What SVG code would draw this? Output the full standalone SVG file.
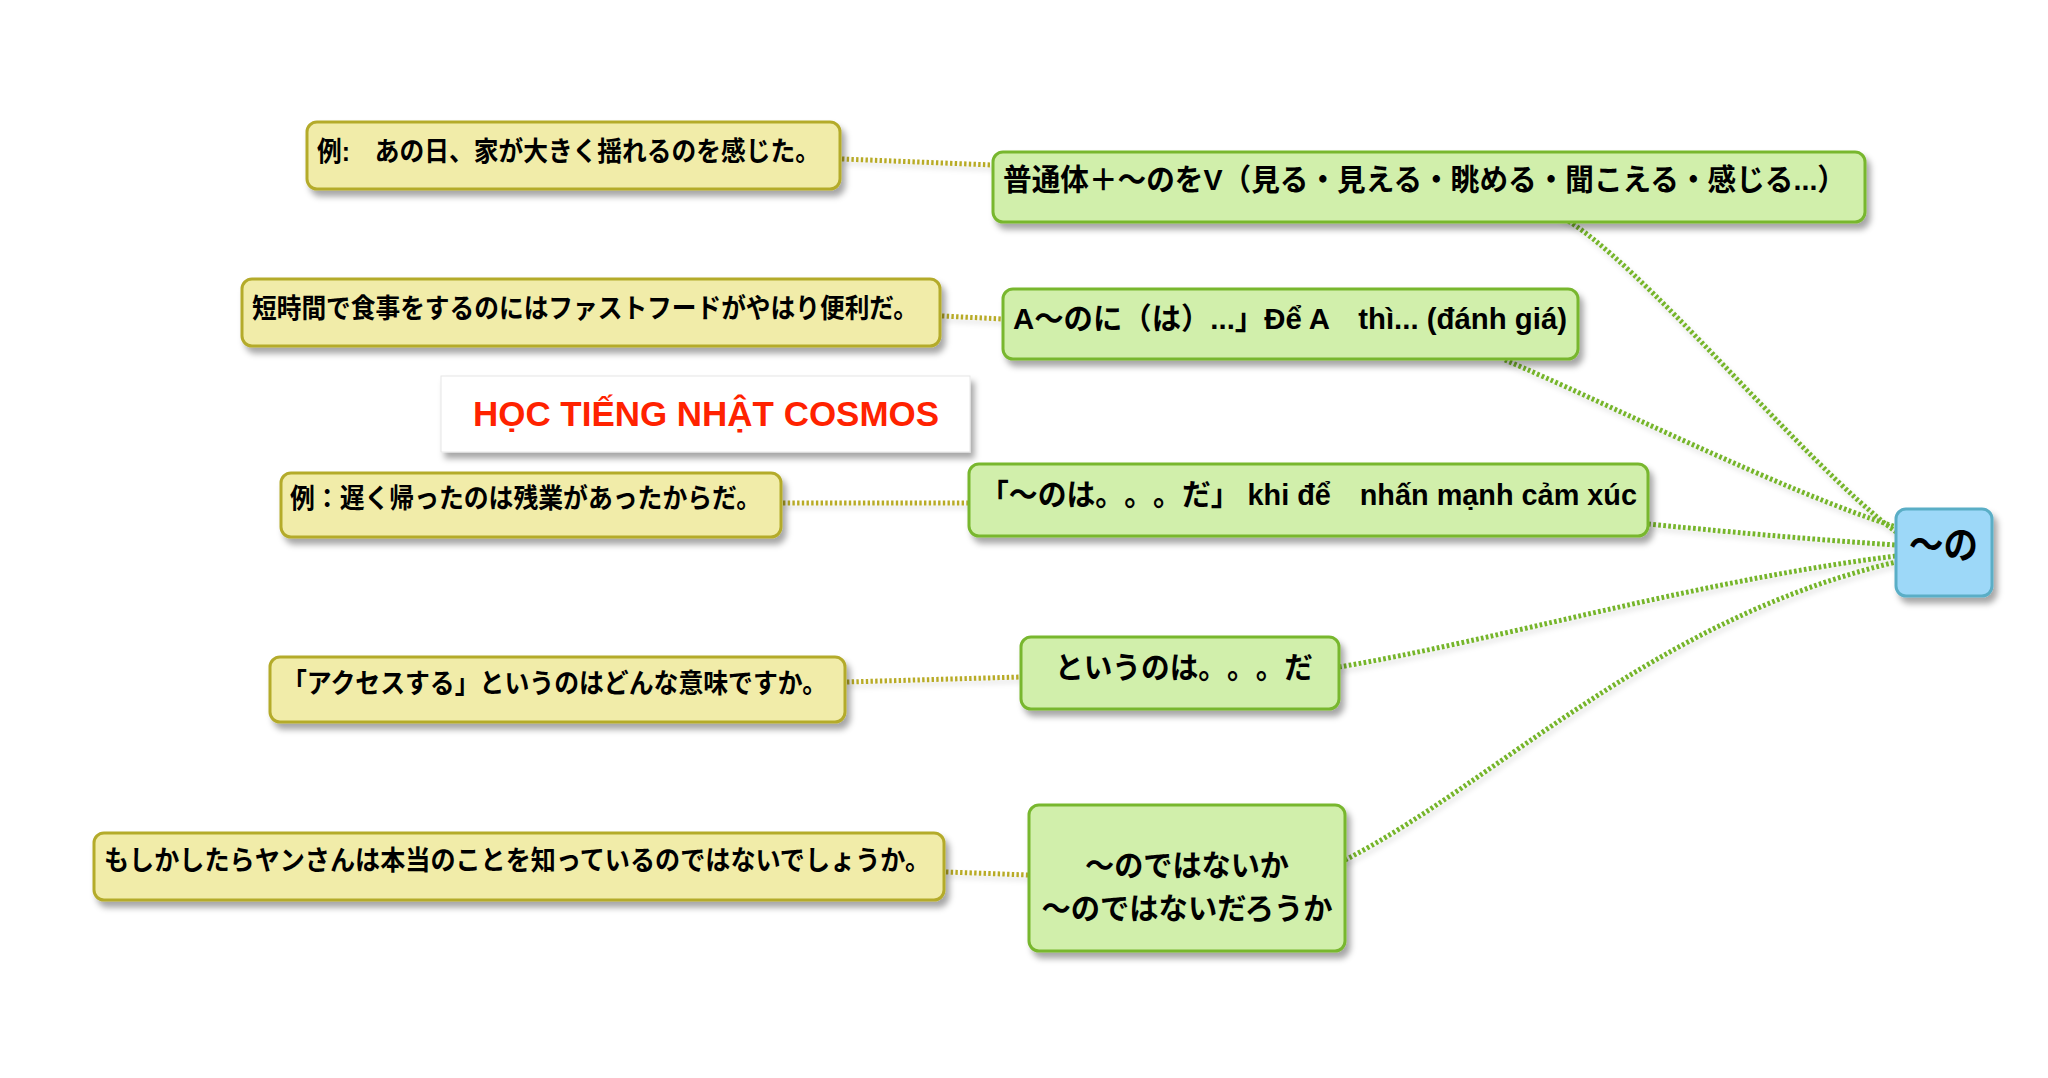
<svg xmlns="http://www.w3.org/2000/svg" width="2048" height="1078" viewBox="0 0 2048 1078">
<defs>
<filter id="sh" x="-10%" y="-20%" width="130%" height="160%">
<feDropShadow dx="4" dy="6" stdDeviation="3" flood-color="#000" flood-opacity="0.35"/>
</filter>
<filter id="shc" x="-5%" y="-20%" width="110%" height="140%">
<feDropShadow dx="2" dy="4" stdDeviation="2.5" flood-color="#000" flood-opacity="0.15"/>
</filter>
<style>
.y{fill:#f1eca9;stroke:#b4ab2b;stroke-width:3;filter:url(#sh)}
.g{fill:#d1efab;stroke:#78b72f;stroke-width:3;filter:url(#sh)}
.b{fill:#9dd8f8;stroke:#5aaec6;stroke-width:3;filter:url(#sh)}
.t{fill:#fff;stroke:#e6e6e6;stroke-width:1;filter:url(#sh)}
text{font-family:"Liberation Sans","Noto Sans CJK JP",sans-serif;font-weight:bold;fill:#000;text-spacing-trim:space-all}
.ty{font-size:27px}
.tg{font-size:30px}
.cg{fill:none;stroke:#76b52c;stroke-width:5;stroke-dasharray:2.7 2.3}
.cy{fill:none;stroke:#b8ab27;stroke-width:5;stroke-dasharray:2.4 2.3}
</style>
</defs>
<rect width="2048" height="1078" fill="#fff"/>
<g id="connectors" filter="url(#shc)">
<path class="cg" d="M1560,216 C1640,260 1800,460 1896,532"/>
<path class="cg" d="M1505,360 C1600,400 1780,490 1896,527"/>
<path class="cg" d="M1648,524 C1750,534 1820,540 1896,545"/>
<path class="cg" d="M1339,667 C1500,640 1700,580 1896,556"/>
<path class="cg" d="M1345,860 C1500,780 1650,620 1896,562"/>
<path class="cy" d="M842,159 L993,165"/>
<path class="cy" d="M942,316 L1003,319"/>
<path class="cy" d="M783,503 L969,503"/>
<path class="cy" d="M847,682 L1021,677"/>
<path class="cy" d="M946,872 L1029,875"/>
</g>
<g id="ex1"><rect class="y" x="307" y="122" width="533" height="67" rx="10"/><text class="ty" x="317" y="161" textLength="503" lengthAdjust="spacingAndGlyphs">例:　あの日、家が大きく揺れるのを感じた。</text></g>
<g id="n1"><rect class="g" x="993" y="152" width="872" height="70" rx="10"/><text class="tg" x="1003" y="190" textLength="843" lengthAdjust="spacingAndGlyphs">普通体＋〜のをV（見る・見える・眺める・聞こえる・感じる...）</text></g>
<g id="ex2"><rect class="y" x="242" y="279" width="698" height="67" rx="10"/><text class="ty" x="252" y="318" textLength="666" lengthAdjust="spacingAndGlyphs">短時間で食事をするのにはファストフードがやはり便利だ。</text></g>
<g id="n2"><rect class="g" x="1003" y="289" width="575" height="70" rx="10"/><text class="tg" x="1013" y="329" textLength="554" lengthAdjust="spacingAndGlyphs">A〜のに（は）...」Để A　thì... (đánh giá)</text></g>
<g id="title"><rect class="t" x="441" y="376" width="529" height="76"/><text x="473" y="426" font-size="35" style="fill:#ff2200" textLength="466" lengthAdjust="spacingAndGlyphs">HỌC TIẾNG NHẬT COSMOS</text></g>
<g id="ex3"><rect class="y" x="281" y="473" width="500" height="64" rx="10"/><text class="ty" x="290" y="508" textLength="471" lengthAdjust="spacingAndGlyphs">例：遅く帰ったのは残業があったからだ。</text></g>
<g id="n3"><rect class="g" x="969" y="464" width="679" height="72" rx="10"/><text class="tg" x="980" y="505" textLength="657" lengthAdjust="spacingAndGlyphs">「〜のは。。。だ」 khi để　nhấn mạnh cảm xúc</text></g>
<g id="ex4"><rect class="y" x="270" y="657" width="575" height="65" rx="10"/><text class="ty" x="282" y="693" textLength="545" lengthAdjust="spacingAndGlyphs">「アクセスする」というのはどんな意味ですか。</text></g>
<g id="n4"><rect class="g" x="1021" y="637" width="318" height="72" rx="10"/><text class="tg" x="1055" y="678" textLength="258" lengthAdjust="spacingAndGlyphs">というのは。。。だ</text></g>
<g id="ex5"><rect class="y" x="94" y="833" width="850" height="67" rx="10"/><text class="ty" x="104" y="870" textLength="826" lengthAdjust="spacingAndGlyphs">もしかしたらヤンさんは本当のことを知っているのではないでしょうか。</text></g>
<g id="n5"><rect class="g" x="1029" y="805" width="316" height="146" rx="10"/><text class="tg" x="1187" y="876" text-anchor="middle" textLength="204" lengthAdjust="spacingAndGlyphs">〜のではないか</text><text class="tg" x="1187" y="919" text-anchor="middle" textLength="291" lengthAdjust="spacingAndGlyphs">〜のではないだろうか</text></g>
<g id="root"><rect class="b" x="1896" y="509" width="96" height="87" rx="10"/><text x="1909" y="558" font-size="38" textLength="69" lengthAdjust="spacingAndGlyphs">〜の</text></g>
</svg>
